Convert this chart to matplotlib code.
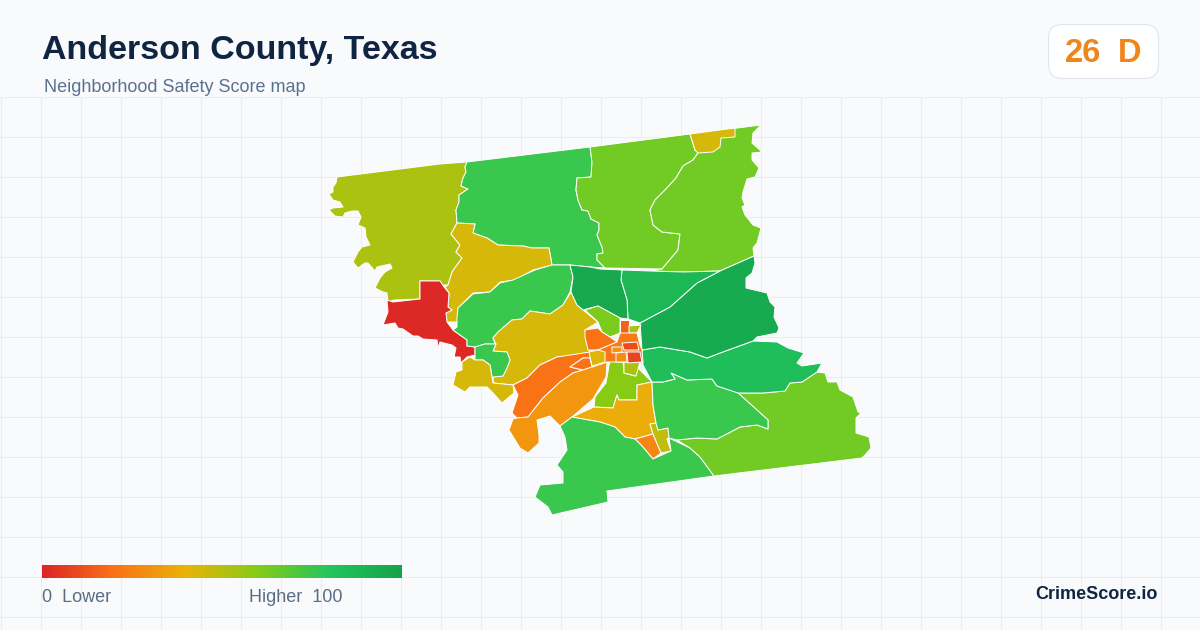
import numpy as np
import matplotlib.pyplot as plt
from matplotlib.colors import LinearSegmentedColormap
from matplotlib.patches import FancyBboxPatch, Polygon

TITLE = "Anderson County, Texas"
SUBTITLE = "Neighborhood Safety Score map"
SCORE = "26"
GRADE = "D"

scale_stops = [0, 0.2, 0.4, 0.6, 0.8, 1]
scale_colors = ["#dc2626", "#f97316", "#eab308", "#84cc16", "#22c55e", "#16a34a"]

# tract outlines in image pixels
nw_olive = [(337,177),(440,164),(467,162),(465,167),(466,172),(463,178),(461,186),(468,189),(459,195),(459,202),(456,210),(457,223),(451,234),(460,245),(456,252),(462,258),(452,272),(448,285),(442,285),(440,281),(420,281),(420,299),(394,300),(388,302),(387,293),(383,292),(375,288),(380,278),(385,272),(392,268),(390,264),(377,267),(375,271),(368,263),(365,263),(358,268),(353,262),(358,252),(362,247),(370,245),(366,237),(365,228),(358,225),(361,217),(358,211),(352,211),(345,213),(343,217),(335,216),(329,210),(333,208),(343,207),(340,202),(333,200),(329,194),(333,192),(333,187),(336,183)]
n_green = [(467,162),(590,147),(592,162),(591,177),(577,178),(576,190),(578,200),(582,210),(588,211),(591,219),(599,223),(599,230),(597,235),(602,247),(603,253),(597,254),(597,260),(605,268),(590,267),(570,265),(552,265),(549,248),(532,248),(523,246),(498,245),(487,238),(473,233),(475,224),(457,223),(456,210),(459,202),(459,195),(468,189),(461,186),(463,178),(466,172),(465,167)]
n_lime_west = [(590,147),(690,134),(695,150),(698,153),(693,160),(683,166),(676,178),(665,190),(655,200),(650,210),(653,225),(662,232),(680,234),(678,250),(662,269),(605,268),(597,260),(597,254),(603,253),(602,247),(597,235),(599,230),(599,223),(591,219),(588,211),(582,210),(578,200),(576,190),(577,178),(591,177),(592,162)]
n_lime_east = [(690,134),(761,125),(753,133),(752,143),(762,152),(752,153),(752,160),(759,168),(755,177),(747,179),(743,192),(742,198),(745,205),(742,207),(745,215),(753,225),(761,228),(757,243),(753,248),(754,256),(720,271),(683,272),(650,271),(662,269),(678,250),(680,234),(662,232),(653,225),(650,210),(655,200),(665,190),(676,178),(683,166),(693,160),(698,153)]
n_yellow_tip = [(690,134),(735,128),(735,137),(721,138),(720,147),(713,152),(698,153),(695,150)]
n_yellow = [(451,234),(457,223),(475,224),(473,233),(487,238),(498,245),(523,246),(532,248),(549,248),(552,265),(533,270),(515,280),(500,282),(490,292),(473,293),(458,308),(458,322),(447,322),(446,313),(452,310),(448,307),(449,293),(445,287),(448,285),(452,272),(462,258),(456,252),(460,245)]
w_red = [(420,281),(440,281),(444,287),(449,293),(448,307),(452,310),(446,313),(447,322),(453,330),(467,340),(467,346),(475,347),(475,355),(467,357),(461,363),(460,357),(453,357),(453,362),(456,348),(452,345),(440,342),(438,348),(437,340),(423,339),(418,336),(413,336),(403,329),(398,328),(395,323),(383,325),(388,312),(387,300),(393,302),(420,299)]
mid_green = [(453,330),(457,327),(457,317),(458,308),(473,294),(490,292),(500,283),(513,280),(535,270),(552,265),(570,265),(573,277),(570,292),(563,305),(550,314),(530,311),(522,319),(512,320),(498,332),(493,338),(495,344),(485,344),(475,347),(467,346),(467,340)]
c_yellow = [(571,292),(577,305),(583,310),(598,322),(585,330),(587,342),(590,352),(570,356),(557,357),(540,365),(527,378),(513,385),(493,383),(493,377),(503,376),(507,368),(510,360),(507,352),(493,351),(496,344),(493,338),(498,332),(512,320),(522,319),(530,311),(550,314),(563,305)]
sw_green = [(475,347),(485,344),(496,344),(493,351),(507,352),(510,360),(507,368),(503,376),(493,377),(493,383),(490,365),(483,360),(475,360),(475,355)]
sw_yellow = [(462,362),(470,357),(475,360),(483,360),(490,365),(493,383),(513,385),(514,393),(502,403),(493,393),(487,387),(470,387),(465,392),(453,385),(456,372),(462,370)]
sw_orange = [(513,385),(527,378),(540,365),(557,357),(590,352),(592,358),(583,358),(570,367),(583,370),(573,373),(560,382),(543,398),(528,417),(517,418),(512,413),(518,395)]
sliver = [(570,367),(583,358),(590,358),(592,367),(583,370)]
amber = [(513,419),(517,418),(528,417),(543,398),(560,382),(573,373),(583,370),(592,367),(607,362),(606,377),(593,399),(572,417),(560,426),(550,416),(537,420),(539,435),(539,443),(528,453),(520,448),(509,430)]
s_lime = [(610,360),(623,361),(624,373),(635,376),(638,368),(652,382),(648,383),(637,385),(637,400),(619,400),(617,395),(613,408),(594,407),(595,397),(606,383)]
s_olive = [(624,362),(640,362),(636,376),(624,373)]
s_amber = [(572,417),(594,407),(613,408),(617,395),(619,400),(637,400),(637,385),(652,382),(653,405),(656,423),(650,424),(653,434),(635,439),(625,437),(615,427),(600,422),(583,419)]
s_orange = [(635,439),(653,434),(661,453),(653,459),(642,446)]
s_olive2 = [(650,424),(656,423),(658,430),(668,428),(669,438),(667,439),(671,451),(661,453),(653,434)]
s_green = [(560,426),(572,417),(583,419),(600,422),(615,427),(625,437),(635,439),(642,446),(653,459),(671,451),(669,438),(690,448),(700,457),(714,476),(607,491),(608,502),(552,515),(548,507),(535,497),(540,485),(563,483),(563,472),(557,465),(567,450),(565,437)]
se_lime = [(714,476),(700,457),(690,448),(677,440),(697,438),(717,439),(740,427),(757,425),(768,429),(768,420),(738,393),(763,393),(785,391),(790,383),(802,382),(817,372),(825,373),(828,382),(837,382),(840,390),(853,397),(858,412),(861,413),(856,418),(856,433),(869,437),(871,448),(865,455),(862,458)]
se_green = [(652,382),(663,382),(675,379),(671,373),(687,380),(712,379),(717,386),(737,392),(768,420),(768,429),(757,425),(740,427),(717,439),(697,438),(677,440),(669,438),(668,428),(658,430),(656,423),(653,405)]
e_green = [(642,350),(660,347),(690,352),(707,358),(720,353),(753,341),(777,342),(788,348),(804,353),(797,363),(802,366),(822,363),(817,372),(802,382),(790,383),(785,391),(763,393),(738,393),(717,386),(712,379),(687,380),(671,373),(675,379),(663,382),(652,382),(643,365)]
ne_dark = [(754,256),(755,263),(752,273),(746,278),(746,288),(767,293),(770,302),(775,307),(774,317),(779,328),(777,333),(757,337),(753,341),(720,353),(707,358),(690,352),(660,347),(642,350),(640,323),(670,307),(697,283),(720,271)]
c_green2 = [(622,270),(650,271),(683,272),(720,271),(697,283),(670,307),(640,323),(628,319),(627,300),(621,280)]
c_dark = [(570,265),(590,267),(600,269),(622,270),(621,280),(627,300),(628,319),(620,318),(598,306),(583,310),(577,305),(571,292),(573,277)]
c_lime = [(585,310),(598,306),(620,318),(620,333),(610,337),(602,332),(598,322)]
city_orange = [(585,330),(598,328),(602,332),(610,337),(617,342),(598,350),(588,350),(585,337)]
city_top = [(620,320),(629,320),(629,333),(620,333)]
city_olive = [(629,326),(641,325),(637,333),(629,333)]
city_base = [(598,350),(617,342),(620,333),(637,333),(640,345),(642,350),(643,362),(624,362),(607,362),(592,367),(590,352)]
city_red = [(627,352),(640,352),(642,362),(628,363)]
city_red2 = [(622,343),(637,342),(639,350),(624,350)]
city_west = [(589,352),(598,350),(605,352),(605,362),(592,366)]
city_mid = [(612,347),(622,347),(622,352),(612,353)]
city_mid2 = [(616,353),(626,352),(627,362),(616,362)]

regions = [nw_olive, n_green, n_lime_west, n_lime_east, n_yellow_tip, n_yellow, w_red, mid_green,
           c_yellow, sw_green, sw_yellow, sw_orange, sliver, amber, s_lime, s_olive, s_amber,
           s_orange, s_olive2, s_green, se_lime, se_green, e_green, ne_dark, c_green2, c_dark,
           c_lime, city_orange, city_top, city_olive, city_base, city_red, city_red2, city_west,
           city_mid, city_mid2]
scores = [52, 75, 64, 64, 44, 44, 1, 75,
          44, 75, 44, 20, 20, 31, 59, 52, 38,
          26, 48, 75, 64, 75, 84, 96, 88, 97,
          62, 20, 16, 52, 22, 8, 10, 42,
          30, 28]

cmap = LinearSegmentedColormap.from_list("safety", list(zip(scale_stops, scale_colors)))

fig = plt.figure(figsize=(12, 6.3), dpi=100, facecolor="#f8fafc")
ax = fig.add_axes([0, 0, 1, 1])
ax.set_xlim(0, 1200)
ax.set_ylim(630, 0)
ax.axis("off")

for x in np.arange(0.5, 1200, 40):
    ax.plot([x, x], [96.5, 630], color="#e6edf3", lw=0.72, zorder=1)
for y in np.arange(96.5, 630, 40):
    ax.plot([0, 1200], [y, y], color="#e6edf3", lw=0.72, zorder=1)

for pts, score in zip(regions, scores):
    ax.add_patch(Polygon(pts, closed=True, fc=cmap(score / 100), ec="white", lw=0.7,
                         joinstyle="round", zorder=2))

ax.text(42, 50, TITLE, fontsize=24.5, fontweight="bold", color="#0f2542", family="Liberation Sans",
        va="center", ha="left")
ax.text(44, 87, SUBTITLE, fontsize=13, color="#5a7290", family="Liberation Sans", va="center", ha="left")

ax.add_patch(FancyBboxPatch((1048.5, 24.5), 110, 54, boxstyle="round,pad=0,rounding_size=14", fc="white",
                            ec="#dfe5ee", lw=0.8, zorder=3))
ax.text(1083, 54, SCORE, fontsize=23.5, fontweight="bold", color="#f0851a", family="Liberation Sans",
        va="center", ha="center", zorder=4)
ax.text(1130, 54, GRADE, fontsize=23.5, fontweight="bold", color="#f0851a", family="Liberation Sans",
        va="center", ha="center", zorder=4)

ax.imshow(np.linspace(0, 1, 360)[None, :], cmap=cmap, vmin=0, vmax=1, extent=(42, 402, 578, 565),
          aspect="auto", zorder=3)
ax.set_xlim(0, 1200)
ax.set_ylim(630, 0)
ax.text(42, 597.5, "0  Lower", fontsize=13, color="#5a6d85", family="Liberation Sans", va="center", ha="left")
ax.text(249, 597.5, "Higher  100", fontsize=13, color="#5a6d85", family="Liberation Sans", va="center", ha="left")
ax.text(1158, 594.5, "CrimeScore.io", fontsize=13, fontweight="bold", color="#0f2542",
        family="Liberation Sans", va="center", ha="right")

fig.savefig("out.png", dpi=100, facecolor=fig.get_facecolor())
